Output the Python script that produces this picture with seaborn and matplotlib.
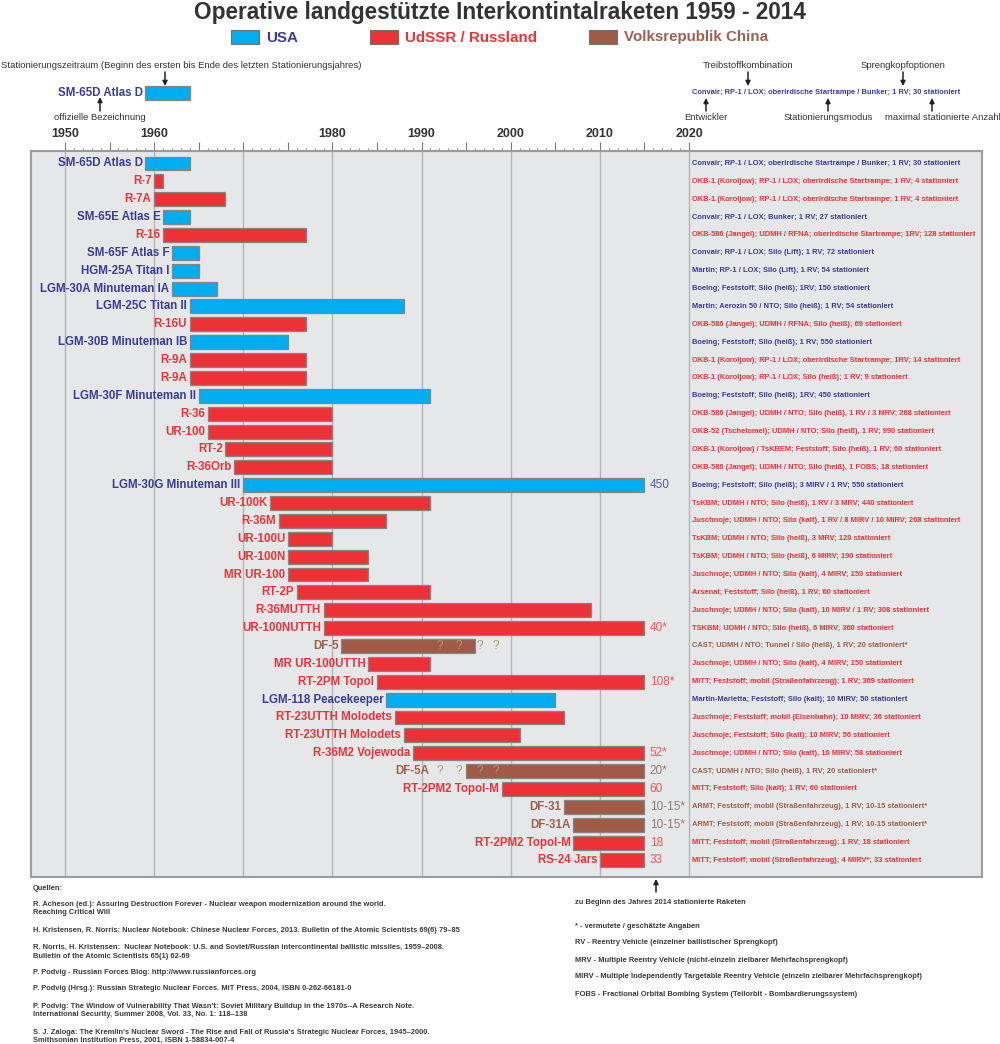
import numpy as np
import pandas as pd
import matplotlib
matplotlib.use("Agg")
import matplotlib.pyplot as plt
import seaborn as sns
from matplotlib.patches import Rectangle

# ---------------- data ----------------
names = ["SM-65D Atlas D", "R-7", "R-7A", "SM-65E Atlas E", "R-16", "SM-65F Atlas F",
         "HGM-25A Titan I", "LGM-30A Minuteman IA", "LGM-25C Titan II", "R-16U",
         "LGM-30B Minuteman IB", "R-9A", "R-9A", "LGM-30F Minuteman II", "R-36", "UR-100",
         "RT-2", "R-36Orb", "LGM-30G Minuteman III", "UR-100K", "R-36M", "UR-100U",
         "UR-100N", "MR UR-100", "RT-2P", "R-36MUTTH", "UR-100NUTTH", "DF-5",
         "MR UR-100UTTH", "RT-2PM Topol", "LGM-118 Peacekeeper", "RT-23UTTH Molodets",
         "RT-23UTTH Molodets", "R-36M2 Vojewoda", "DF-5A", "RT-2PM2 Topol-M", "DF-31",
         "DF-31A", "RT-2PM2 Topol-M", "RS-24 Jars"]
countries = ["USA", "UdSSR", "UdSSR", "USA", "UdSSR", "USA", "USA", "USA", "USA", "UdSSR",
             "USA", "UdSSR", "UdSSR", "USA", "UdSSR", "UdSSR", "UdSSR", "UdSSR", "USA", "UdSSR",
             "UdSSR", "UdSSR", "UdSSR", "UdSSR", "UdSSR", "UdSSR", "UdSSR", "China", "UdSSR",
             "UdSSR", "USA", "UdSSR", "UdSSR", "UdSSR", "China", "UdSSR", "China", "China",
             "UdSSR", "UdSSR"]
start_year = [1959, 1960, 1960, 1961, 1961, 1962, 1962, 1962, 1964, 1964, 1964, 1964, 1964,
              1965, 1966, 1966, 1968, 1969, 1970, 1973, 1974, 1975, 1975, 1975, 1976, 1979,
              1979, 1981, 1984, 1985, 1986, 1987, 1988, 1989, 1995, 1999, 2006, 2007, 2007, 2010]
end_year = [1964, 1961, 1968, 1964, 1977, 1965, 1965, 1967, 1988, 1977, 1975, 1977, 1977,
            1991, 1980, 1980, 1980, 1980, 2015, 1991, 1986, 1980, 1984, 1984, 1991, 2009,
            2015, 1996, 1991, 2015, 2005, 2006, 2001, 2015, 2015, 2015, 2015, 2015, 2015, 2015]
counts_2014 = ["", "", "", "", "", "", "", "", "", "", "", "", "", "", "", "", "", "",
               "450", "", "", "", "", "", "", "", "40*", "", "", "108*", "", "", "", "52*",
               "20*", "60", "10-15*", "10-15*", "18", "33"]
details = [
    "Convair; RP-1 / LOX; oberirdische Startrampe / Bunker; 1 RV; 30 stationiert",
    "OKB-1 (Koroljow); RP-1 / LOX; oberirdische Startrampe; 1 RV; 4 stationiert",
    "OKB-1 (Koroljow); RP-1 / LOX; oberirdische Startrampe; 1 RV; 4 stationiert",
    "Convair; RP-1 / LOX; Bunker; 1 RV; 27 stationiert",
    "OKB-586 (Jangel); UDMH / RFNA; oberirdische Startrampe; 1RV; 128 stationiert",
    "Convair; RP-1 / LOX; Silo (Lift); 1 RV; 72 stationiert",
    "Martin; RP-1 / LOX; Silo (Lift); 1 RV; 54 stationiert",
    "Boeing; Feststoff; Silo (heiß); 1RV; 150 stationiert",
    "Martin; Aerozin 50 / NTO; Silo (heiß); 1 RV; 54 stationiert",
    "OKB-586 (Jangel); UDMH / RFNA; Silo (heiß); 69 stationiert",
    "Boeing; Feststoff; Silo (heiß); 1 RV; 550 stationiert",
    "OKB-1 (Koroljow); RP-1 / LOX; oberirdische Startrampe; 1RV; 14 stationiert",
    "OKB-1 (Koroljow); RP-1 / LOX; Silo (heiß); 1 RV; 9 stationiert",
    "Boeing; Feststoff; Silo (heiß); 1RV; 450 stationiert",
    "OKB-586 (Jangel); UDMH / NTO; Silo (heiß), 1 RV / 3 MRV; 268 stationiert",
    "OKB-52 (Tschelomei); UDMH / NTO; Silo (heiß), 1 RV; 990 stationiert",
    "OKB-1 (Koroljow) / TsKBEM; Feststoff; Silo (heiß), 1 RV; 60 stationiert",
    "OKB-586 (Jangel); UDMH / NTO; Silo (heiß), 1 FOBS; 18 stationiert",
    "Boeing; Feststoff; Silo (heiß); 3 MIRV / 1 RV; 550 stationiert",
    "TsKBM; UDMH / NTO; Silo (heiß), 1 RV / 3 MRV; 440 stationiert",
    "Juschnoje; UDMH / NTO; Silo (kalt), 1 RV / 8 MIRV / 10 MIRV; 268 stationiert",
    "TsKBM; UDMH / NTO; Silo (heiß), 3 MRV; 120 stationiert",
    "TsKBM; UDMH / NTO; Silo (heiß), 6 MIRV; 190 stationiert",
    "Juschnoje; UDMH / NTO; Silo (kalt), 4 MIRV; 150 stationiert",
    "Arsenal; Feststoff; Silo (heiß), 1 RV; 60 stationiert",
    "Juschnoje; UDMH / NTO; Silo (kalt), 10 MIRV / 1 RV; 308 stationiert",
    "TSKBM; UDMH / NTO; Silo (heiß), 6 MIRV; 360 stationiert",
    "CAST; UDMH / NTO; Tunnel / Silo (heiß), 1 RV; 20 stationiert*",
    "Juschnoje; UDMH / NTO; Silo (kalt), 4 MIRV; 150 stationiert",
    "MITT; Feststoff; mobil (Straßenfahrzeug); 1 RV; 369 stationiert",
    "Martin-Marietta; Feststoff; Silo (kalt); 10 MIRV; 50 stationiert",
    "Juschnoje; Feststoff; mobil (Eisenbahn); 10 MIRV; 36 stationiert",
    "Juschnoje; Feststoff; Silo (kalt); 10 MIRV; 56 stationiert",
    "Juschnoje; UDMH / NTO; Silo (kalt), 10 MIRV; 58 stationiert",
    "CAST; UDMH / NTO; Silo (heiß), 1 RV; 20 stationiert*",
    "MITT; Feststoff; Silo (kalt); 1 RV; 60 stationiert",
    "ARMT; Feststoff; mobil (Straßenfahrzeug), 1 RV; 10-15 stationiert*",
    "ARMT; Feststoff; mobil (Straßenfahrzeug), 1 RV; 10-15 stationiert*",
    "MITT; Feststoff; mobil (Straßenfahrzeug); 1 RV; 18 stationiert",
    "MITT; Feststoff; mobil (Straßenfahrzeug); 4 MIRV*; 33 stationiert",
]
# uncertain transition DF-5 -> DF-5A (question marks)
qmark_rows = ["DF-5", "DF-5A"]
qmark_years = [1992.0, 1994.2, 1996.5, 1998.3]

axis_labels = [1950, 1960, 1980, 1990, 2000, 2010, 2020]
legend_labels = {"USA": "USA", "UdSSR": "UdSSR / Russland", "China": "Volksrepublik China"}
title = "Operative landgestützte Interkontintalraketen 1959 - 2014"

sources = [
    "Quellen:",
    "R. Acheson (ed.): Assuring Destruction Forever - Nuclear weapon modernization around the world.",
    "Reaching Critical Will",
    "H. Kristensen, R. Norris: Nuclear Notebook: Chinese Nuclear Forces, 2013. Bulletin of the Atomic Scientists 69(6) 79–85",
    "R. Norris, H. Kristensen:  Nuclear Notebook: U.S. and Soviet/Russian intercontinental ballistic missiles, 1959–2008.",
    "Bulletin of the Atomic Scientists 65(1) 62-69",
    "P. Podvig - Russian Forces Blog: http://www.russianforces.org",
    "P. Podvig (Hrsg.): Russian Strategic Nuclear Forces. MIT Press, 2004, ISBN 0-262-66181-0",
    "P. Podvig: The Window of Vulnerability That Wasn't: Soviet Military Buildup in the 1970s--A Research Note.",
    "International Security, Summer 2008, Vol. 33, No. 1: 118–138",
    "S. J. Zaloga: The Kremlin's Nuclear Sword - The Rise and Fall of Russia's Strategic Nuclear Forces, 1945–2000.",
    "Smithsonian Institution Press, 2001, ISBN 1-58834-007-4",
]
source_y = [888, 905, 913, 930, 947, 956, 972, 989, 1007, 1015, 1032, 1040]
footnotes = ["* - vermutete / geschätzte Angaben",
             "RV - Reentry Vehicle (einzelner ballistischer Sprengkopf)",
             "MRV - Multiple Reentry Vehicle (nicht-einzeln zielbarer Mehrfachsprengkopf)",
             "MIRV - Multiple Independently Targetable Reentry Vehicle (einzeln zielbarer Mehrfachsprengkopf)",
             "FOBS - Fractional Orbital Bombing System (Teilorbit - Bombardierungssystem)"]
footnote_y = [927, 943, 960, 977, 995]

# ---------------- styling ----------------
sns.set_theme(style="white")
FONT = "Liberation Sans"
plt.rcParams["font.family"] = [FONT, "DejaVu Sans"]

bar_col = {"USA": "#00aeef", "UdSSR": "#ed3237", "China": "#a05a48"}
lab_col = {"USA": "#3b3b98", "UdSSR": "#ed3237", "China": "#a0604e"}
cnt_col = {"USA": "#5c5ca2", "UdSSR": "#ef5558", "China": "#8c7d74"}
det_col = {"USA": "#3b3b98", "UdSSR": "#ee2f36", "China": "#9c5e4c"}
DARK = "#333333"

FS_TITLE, FS_LEG, FS_TICK, FS_LAB, FS_CNT = 16.3, 10.9, 9.0, 8.3, 8.5
FS_SMALL, FS_DET, FS_FOOT, FS_Q = 6.8, 5.4, 5.4, 8.5

df = pd.DataFrame({"name": names, "country": countries,
                   "start": start_year, "end": end_year,
                   "count": counts_2014, "detail": details})
df["row"] = np.arange(len(df))
df["dur"] = df["end"] - df["start"]

W, H = 1000, 1044
fig = plt.figure(figsize=(W / 100, H / 100), dpi=100)
fig.patch.set_facecolor("white")

BOX_L, BOX_R, BOX_T, BOX_B = 31, 982, 151, 877
PXY = (689 - 65) / 70.0          # pixels per year
ROW0, ROWH = 163.5, 17.87         # pixel centre of first row, row pitch

ax = fig.add_axes([BOX_L / W, 1 - BOX_B / H, (BOX_R - BOX_L) / W, (BOX_B - BOX_T) / H])
ax.set_facecolor("#e6e7e9")

for c in ["USA", "UdSSR", "China"]:
    sub = df[df["country"] == c].sort_values("row")
    sns.barplot(data=sub, x="dur", y="row", orient="y", native_scale=True,
                left=sub["start"].to_numpy(), color=bar_col[c], saturation=1,
                edgecolor="#858585", linewidth=0.9, width=0.78, errorbar=None,
                ax=ax, zorder=3)

xmin = 1950 - (65 - BOX_L) / PXY
xmax = 1950 + (BOX_R - 65) / PXY
ax.set_xlim(xmin, xmax)
ax.set_ylim((BOX_B - ROW0) / ROWH, (BOX_T - ROW0) / ROWH)
ax.set_xlabel("")
ax.set_ylabel("")
ax.set_yticks([])

for yr in range(1950, 2021, 10):
    ax.axvline(yr, color="#b4b4b4", lw=1.0, zorder=1)

ax.xaxis.tick_top()
major = list(range(1950, 2021, 5))
ax.set_xticks(major)
ax.set_xticklabels([str(y) if y in axis_labels else "" for y in major])
ax.set_xticks(list(range(1950, 2021)), minor=True)
ax.tick_params(axis="x", which="major", length=6.5, width=0.8, color="#777777", pad=1.5,
               labelsize=FS_TICK, labelcolor=DARK, direction="out")
ax.tick_params(axis="x", which="minor", length=2.5, width=0.7, color="#888888", direction="out")
for lbl in ax.get_xticklabels():
    lbl.set_fontweight("bold")
for sp in ax.spines.values():
    sp.set_color("#9c9c9c")
    sp.set_linewidth(1.5)

qcolor = "#ab9875"
for _, r in df.iterrows():
    c = r["country"]
    anchor = r["start"]
    if r["name"] in qmark_rows:
        for q in qmark_years:
            ax.text(q, r["row"], "?", ha="center", va="center", fontsize=FS_Q,
                    color=qcolor, zorder=5)
        if min(qmark_years) < anchor:
            anchor = min(qmark_years) - 0.8
    ax.text(anchor - 0.3, r["row"], r["name"], ha="right", va="center",
            fontsize=FS_LAB, fontweight="bold", color=lab_col[c], zorder=5)
    if r["count"]:
        ax.text(r["end"] + 0.6, r["row"], r["count"], ha="left", va="center",
                fontsize=FS_CNT, color=cnt_col[c], zorder=5)
    ax.text(2020.35, r["row"], r["detail"], ha="left", va="center", fontsize=FS_DET,
            fontweight="bold", color=det_col[c], zorder=5)

# ---- explanatory example (row 0 drawn above the chart) ----
yex = (93 - ROW0) / ROWH
ax.barh(y=yex, width=df["dur"][0], left=df["start"][0], height=0.78,
        color=bar_col[df["country"][0]], edgecolor="#858585", linewidth=0.9, clip_on=False)
ax.text(df["start"][0] - 0.3, yex, df["name"][0], ha="right", va="center",
        fontsize=FS_LAB, fontweight="bold", color=lab_col["USA"])
ax.text(2020.35, yex, df["detail"][0], ha="left", va="center", fontsize=FS_DET,
        fontweight="bold", color=det_col["USA"])

# ---- overlay in pixel coordinates for header / footer texts ----
ov = fig.add_axes([0, 0, 1, 1])
ov.set_xlim(0, W)
ov.set_ylim(H, 0)
ov.axis("off")
ov.patch.set_alpha(0)

ov.text(500, 13, title, ha="center", va="center", fontsize=FS_TITLE, fontweight="bold",
        color=DARK)

leg_pos = {"USA": 231, "UdSSR": 370, "China": 589}
for c, x in leg_pos.items():
    ov.add_patch(Rectangle((x, 30), 28, 14, facecolor=bar_col[c], edgecolor="#707070", lw=0.8))
    ov.text(x + 35, 37.5, legend_labels[c], ha="left", va="center", fontsize=FS_LEG,
            fontweight="bold", color=lab_col[c])

small = dict(fontsize=FS_SMALL, color=DARK, va="center")
arrow = dict(arrowstyle="-|>", color="#222222", lw=1.1, mutation_scale=7, shrinkA=0, shrinkB=0)


def arr(x, y_from, y_to):
    ov.annotate("", xy=(x, y_to), xytext=(x, y_from), arrowprops=arrow)


ov.text(1, 65, "Stationierungszeitraum (Beginn des ersten bis Ende des letzten Stationierungsjahres)",
        ha="left", **small)
arr(165, 72, 86)
arr(100, 111, 97)
ov.text(100, 117, "offizielle Bezeichnung", ha="center", **small)

ov.text(748, 65, "Treibstoffkombination", ha="center", **small)
arr(748, 72, 86)
ov.text(903, 65, "Sprengkopfoptionen", ha="center", **small)
arr(903, 72, 86)
for x, t, ha, tx in [(706, "Entwickler", "center", 706),
                     (828, "Stationierungsmodus", "center", 828),
                     (932, "maximal stationierte Anzahl", "left", 885)]:
    arr(x, 111, 98)
    ov.text(tx, 117, t, ha=ha, **small)

# ---- footer ----
foot = dict(fontsize=FS_FOOT, fontweight="bold", color="#3a3a3a", va="center", ha="left")
arr(656, 892, 879)
ov.text(575, 902, "zu Beginn des Jahres 2014 stationierte Raketen", **foot)
for t, y in zip(footnotes, footnote_y):
    ov.text(575, y, t, **foot)
for t, y in zip(sources, source_y):
    ov.text(33, y, t, **foot)

fig.savefig("out.png", dpi=100, facecolor="white")
